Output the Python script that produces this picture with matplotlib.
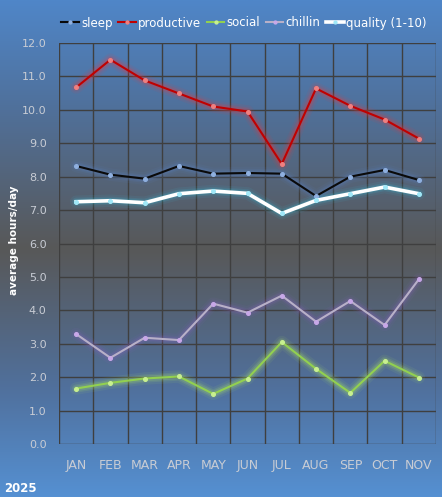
import numpy as np
import matplotlib
matplotlib.use("Agg")
import matplotlib.pyplot as plt
from matplotlib.colors import LinearSegmentedColormap

months = ["JAN", "FEB", "MAR", "APR", "MAY", "JUN", "JUL", "AUG", "SEP", "OCT", "NOV"]
sleep = [8.32, 8.06, 7.94, 8.32, 8.09, 8.11, 8.09, 7.42, 8.00, 8.20, 7.90]
productive = [10.67, 11.50, 10.88, 10.49, 10.10, 9.95, 8.38, 10.64, 10.12, 9.71, 9.14]
social = [1.66, 1.83, 1.96, 2.02, 1.50, 1.96, 3.05, 2.25, 1.53, 2.49, 1.99]
chillin = [3.29, 2.58, 3.18, 3.11, 4.20, 3.93, 4.44, 3.66, 4.28, 3.56, 4.93]
quality = [7.25, 7.28, 7.22, 7.49, 7.57, 7.50, 6.90, 7.29, 7.49, 7.69, 7.49]
yticks = [0, 1, 2, 3, 4, 5, 6, 7, 8, 9, 10, 11, 12]

W, H = 442, 497
fig = plt.figure(figsize=(W / 100, H / 100), dpi=100)

# background gradient
bg = fig.add_axes([0, 0, 1, 1])
bg.set_axis_off()
cmap = LinearSegmentedColormap.from_list(
    "bg", [(0.0, "#4f86c8"), (0.22, "#50709a"), (0.5, "#585858"),
           (0.78, "#50709c"), (1.0, "#5590d2")])
grad = np.linspace(0, 1, 256).reshape(-1, 1)
bg.imshow(grad, aspect="auto", cmap=cmap, extent=[0, 1, 0, 1], origin="upper")
bg.set_xlim(0, 1)
bg.set_ylim(0, 1)

left, right = 59 / W, 436 / W
top, bottom = 43 / H, 444 / H
ax = fig.add_axes([left, 1 - bottom, right - left, bottom - top])
ax.set_facecolor("none")
x = np.arange(len(months))
ax.set_xlim(-0.5, len(months) - 0.5)
ax.set_ylim(0, 12)

gridc = "#3f3f3f"
for b in np.arange(-0.5, len(months) + 0.5, 1):
    ax.axvline(b, color=gridc, lw=1.0, zorder=1)
for yv in yticks:
    ax.axhline(yv, color=gridc, lw=1.0, zorder=1)
for s in ax.spines.values():
    s.set_visible(False)

ax.set_yticks(yticks)
ax.set_yticklabels([f"{v:.1f}" for v in yticks], color="#c8ccd4", fontsize=8)
ax.set_xticks(x)
ax.set_xticklabels(months, color="#c8ccd4", fontsize=9)
ax.tick_params(length=0)
ax.tick_params(axis="x", pad=11)
ax.tick_params(axis="y", pad=9)


def glow_line(vals, color, glow, mcolor, lw=1.6, label=None):
    for w, a in [(9, 0.07), (6, 0.11), (4, 0.16)]:
        ax.plot(x, vals, color=glow, lw=w, alpha=a, solid_capstyle="round",
                solid_joinstyle="round", zorder=2)
    ax.plot(x, vals, color=color, lw=lw, zorder=3, label=label,
            marker="o", markersize=2.6, markerfacecolor=mcolor,
            markeredgecolor=mcolor)


glow_line(sleep, "#0a0a0a", "#5a86d0", "#8fb0e0", lw=1.5, label="sleep")
glow_line(productive, "#c00000", "#ff3030", "#f08080", lw=1.5, label="productive")
glow_line(social, "#92d050", "#b8f060", "#c8f090", lw=1.5, label="social")
glow_line(chillin, "#b8b0c8", "#8a60c0", "#c8a8e8", lw=1.5, label="chillin")
glow_line(quality, "#ffffff", "#30d0f0", "#a0e8f8", lw=2.6, label="quality (1-10)")

leg = fig.legend(loc="center", bbox_to_anchor=(244 / W, 1 - 23 / H), ncol=5,
                 frameon=False, fontsize=8.5, handlelength=1.5,
                 handletextpad=0.2, columnspacing=0.45, labelcolor="white",
                 markerscale=0.8, borderaxespad=0, borderpad=0)

fig.text(14 / W, 1 - 240 / H, "average hours/day", rotation=90, color="white",
         fontsize=7.5, fontweight="bold", ha="center", va="center")
fig.text(4 / W, 1 - 488 / H, "2025", color="white", fontsize=8.5,
         fontweight="bold", ha="left", va="center")

fig.savefig("out.png", dpi=100)
